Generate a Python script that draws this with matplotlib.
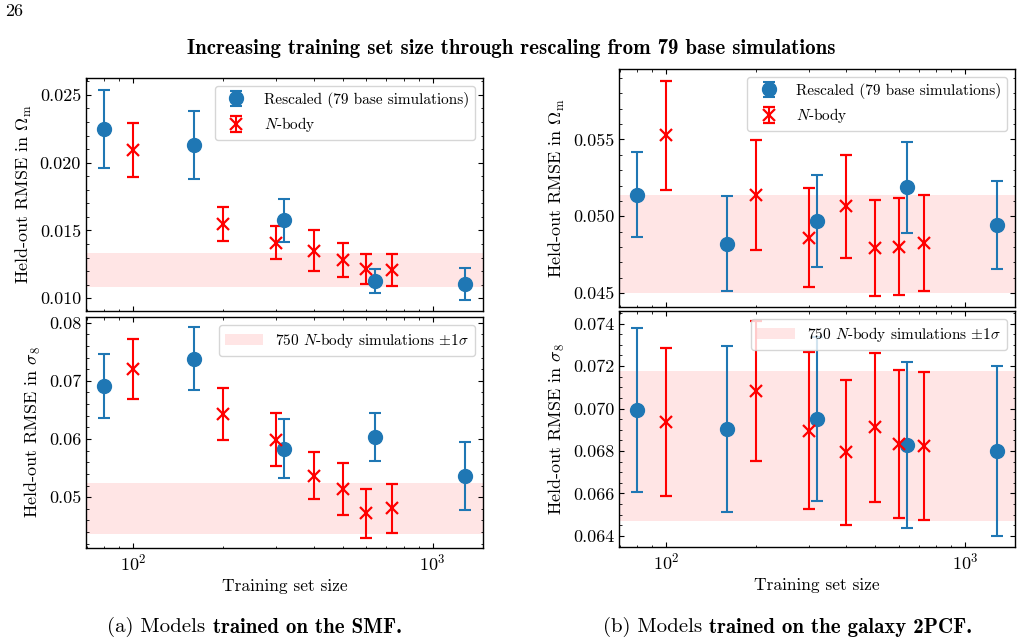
import numpy as np
import matplotlib
matplotlib.use("Agg")
import matplotlib.pyplot as plt

plt.rcParams.update({
    "font.family": "cmr10",
    "mathtext.fontset": "cm",
    "axes.formatter.use_mathtext": True,
    "xtick.direction": "in",
    "ytick.direction": "in",
    "xtick.top": True,
    "ytick.right": True,
    "xtick.minor.visible": True,
    "ytick.minor.visible": True,
    "xtick.major.size": 3.5,
    "ytick.major.size": 3.5,
    "xtick.minor.size": 1.8,
    "ytick.minor.size": 1.8,
    "axes.linewidth": 1.0,
})

BLUE = "#1f77b4"
RED = "red"

# training set sizes
rescaled_n = [80, 160, 320, 640, 1280]
nbody_n = [100, 200, 300, 400, 500, 600, 730]

# (a) SMF, Omega_m
smf_om_resc = [0.02252, 0.02129, 0.01575, 0.01128, 0.01103]
smf_om_resc_err = [0.00288, 0.00249, 0.00159, 0.00086, 0.00117]
smf_om_nbody = [0.02094, 0.01548, 0.01411, 0.01352, 0.01283, 0.01216, 0.01207]
smf_om_nbody_err = [0.00197, 0.00126, 0.00123, 0.00149, 0.00127, 0.00113, 0.00117]
smf_om_band = (0.01086, 0.01332)

# (a) SMF, sigma_8
smf_s8_resc = [0.06909, 0.07383, 0.05834, 0.06034, 0.05366]
smf_s8_resc_err = [0.00552, 0.00540, 0.00508, 0.00412, 0.00586]
smf_s8_nbody = [0.07211, 0.06429, 0.05989, 0.05366, 0.05137, 0.04726, 0.04806]
smf_s8_nbody_err = [0.00515, 0.00443, 0.00460, 0.00403, 0.00443, 0.00420, 0.00423]
smf_s8_band = (0.04366, 0.0524)

# (b) 2PCF, Omega_m
pcf_om_resc = [0.05141, 0.04820, 0.04970, 0.05189, 0.04943]
pcf_om_resc_err = [0.00279, 0.00309, 0.00298, 0.00296, 0.00288]
pcf_om_nbody = [0.05526, 0.05137, 0.04861, 0.05065, 0.04793, 0.04802, 0.04824]
pcf_om_nbody_err = [0.00355, 0.00359, 0.00323, 0.00336, 0.00312, 0.00318, 0.00314]
pcf_om_band = (0.04502, 0.05141)

# (b) 2PCF, sigma_8
pcf_s8_resc = [0.06995, 0.06902, 0.06951, 0.06829, 0.06799]
pcf_s8_resc_err = [0.00386, 0.00390, 0.00387, 0.00390, 0.00401]
pcf_s8_nbody = [0.06938, 0.07082, 0.06895, 0.06793, 0.06912, 0.06833, 0.06824]
pcf_s8_nbody_err = [0.00348, 0.00330, 0.00369, 0.00343, 0.00350, 0.00350, 0.00349]
pcf_s8_band = (0.06472, 0.07176)

fig = plt.figure(figsize=(10.22, 6.43), dpi=100)

ax_a1 = fig.add_axes([0.0841, 0.5163, 0.3885, 0.3624])
ax_a2 = fig.add_axes([0.0841, 0.1477, 0.3885, 0.3593])
ax_b1 = fig.add_axes([0.6057, 0.5226, 0.3875, 0.3701])
ax_b2 = fig.add_axes([0.6057, 0.1493, 0.3875, 0.3670])

panels = [
    (ax_a1, smf_om_resc, smf_om_resc_err, smf_om_nbody, smf_om_nbody_err, smf_om_band,
     (0.00906, 0.02625), [0.010, 0.015, 0.020, 0.025], "%.3f", r"Held-out RMSE in $\Omega_{\rm m}$"),
    (ax_a2, smf_s8_resc, smf_s8_resc_err, smf_s8_nbody, smf_s8_nbody_err, smf_s8_band,
     (0.04126, 0.08097), [0.05, 0.06, 0.07, 0.08], "%.2f", r"Held-out RMSE in $\sigma_8$"),
    (ax_b1, pcf_om_resc, pcf_om_resc_err, pcf_om_nbody, pcf_om_nbody_err, pcf_om_band,
     (0.04409, 0.05959), [0.045, 0.050, 0.055], "%.3f", r"Held-out RMSE in $\Omega_{\rm m}$"),
    (ax_b2, pcf_s8_resc, pcf_s8_resc_err, pcf_s8_nbody, pcf_s8_nbody_err, pcf_s8_band,
     (0.06348, 0.07459), [0.064, 0.066, 0.068, 0.070, 0.072, 0.074], "%.3f", r"Held-out RMSE in $\sigma_8$"),
]

for i, (ax, r, re, nb, nbe, band, ylim, yticks, fmt, ylabel) in enumerate(panels):
    top = i % 2 == 0
    band_patch = ax.axhspan(band[0], band[1], color=RED, alpha=0.1, lw=0,
                            label=r"750 $N$-body simulations $\pm1\sigma$")
    h1 = ax.errorbar(rescaled_n, r, yerr=re, fmt="o", color=BLUE, ms=10,
                     capsize=4, elinewidth=1.5, capthick=1.5,
                     label="Rescaled (79 base simulations)")
    h2 = ax.errorbar(nbody_n, nb, yerr=nbe, fmt="x", color=RED, ms=9, mew=1.6,
                     capsize=4, elinewidth=1.5, capthick=1.5,
                     label=r"$N$-body")
    ax.set_xscale("log")
    ax.set_ylim(*ylim)
    ax.set_yticks(yticks)
    ax.yaxis.set_major_formatter(matplotlib.ticker.FormatStrFormatter(fmt))
    ax.tick_params(labelsize=13)
    ax.set_ylabel(ylabel, fontsize=13)
    if top:
        ax.tick_params(axis="x", which="both", labelbottom=False)
        ax.legend(handles=[h1, h2], loc="upper right", fontsize=11,
                  fancybox=True, edgecolor="0.8", borderpad=0.4)
    else:
        ax.set_xlabel("Training set size", fontsize=12.5)
        ax.legend(handles=[band_patch], loc="upper right", fontsize=11,
                  fancybox=True, edgecolor="0.8", handlelength=2.5)

fig.text(0.005, 0.982, "26", fontsize=13, ha="left", va="center")
fig.text(0.5, 0.925, "Increasing training set size through rescaling from 79 base simulations",
         fontsize=15, ha="center", va="center", family="cmb10")

# sub-captions: regular part followed by bold part
captions = [(0.105, "(a) Models", "trained on the SMF."),
            (0.590, "(b) Models", "trained on the galaxy 2PCF.")]
for x0, plain, bold in captions:
    t = fig.text(x0, 0.017, plain, fontsize=15, ha="left", va="baseline")
    plt.annotate(bold, xy=(1, 0), xycoords=t, xytext=(5, 0), textcoords="offset points",
                 fontsize=15, family="cmb10", ha="left", va="bottom")

fig.savefig("out.png", dpi=100)
